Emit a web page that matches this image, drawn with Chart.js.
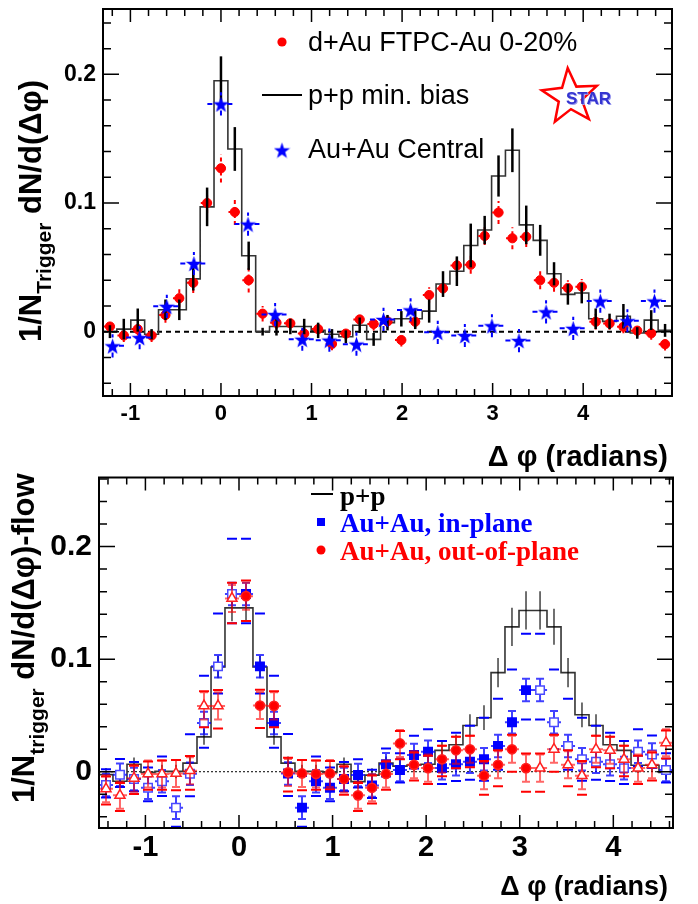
<!DOCTYPE html>
<html>
<head>
<meta charset="utf-8">
<script src="https://cdn.jsdelivr.net/npm/chart.js@4.4.1/dist/chart.umd.min.js"></script>
<style>
  body { margin: 0; background: #fff; }
  #wrap { position: relative; width: 698px; height: 904px; }
  canvas { position: absolute; left: 0; }
</style>
</head>
<body>
<div id="wrap">
  <canvas id="topChart" width="698" height="480" style="top:0"></canvas>
  <canvas id="bottomChart" width="698" height="434" style="top:470px"></canvas>
</div>
<script>
// ---- top panel: d+Au, p+p, Au+Au central ----
const topBinX = [-1.226, -1.073, -0.919, -0.766, -0.613, -0.460, -0.306, -0.153, 0.000, 0.153, 0.306, 0.460, 0.613, 0.766,
  0.919, 1.073, 1.226, 1.379, 1.532, 1.686, 1.839, 1.992, 2.145, 2.299, 2.452, 2.605, 2.758, 2.912, 3.065, 3.218,
  3.371, 3.525, 3.678, 3.831, 3.984, 4.138, 4.291, 4.444, 4.597, 4.751, 4.904]
const topPP = [0.000, 0.002, 0.009, -0.002, 0.017, 0.017, 0.041, 0.097, 0.195, 0.142, 0.059, 0.000, 0.004, 0.004,
  0.004, 0.001, -0.002, -0.004, 0.005, -0.006, 0.007, 0.010, 0.010, 0.016, 0.037, 0.047, 0.067, 0.079, 0.121, 0.141,
  0.083, 0.071, 0.045, 0.029, 0.030, 0.010, 0.008, 0.012, -0.001, 0.009, 0.001]
const topPPErr = [0.005, 0.008, 0.009, 0.004, 0.008, 0.008, 0.009, 0.015, 0.019, 0.017, 0.011, 0.003, 0.007, 0.006,
  0.006, 0.006, 0.004, 0.005, 0.006, 0.005, 0.006, 0.006, 0.008, 0.009, 0.010, 0.0115, 0.017, 0.011, 0.016, 0.017,
  0.015, 0.012, 0.009, 0.008, 0.008, 0.008, 0.006, 0.0095, 0.0045, 0.0077, 0.005]
const topDAu = [0.004, -0.003, 0.002, -0.003, 0.013, 0.026, 0.038, 0.100, 0.127, 0.093, 0.040, 0.014, 0.007, 0.0065,
  -0.0015, 0.002, -0.0095, -0.0015, 0.0095, 0.006, 0.008, -0.0065, 0.0077, 0.0285, 0.0336, 0.0515, 0.052, 0.0744,
  0.0926, 0.0726, 0.0738, 0.040, 0.038, 0.034, 0.035, 0.0077, 0.0064, 0.0038, 0.0008, -0.0013, -0.0097]
const topDAuErr = [0.005, 0.005, 0.005, 0.005, 0.006, 0.007, 0.008, 0.008, 0.011, 0.010, 0.0095, 0.006, 0.005, 0.005,
  0.005, 0.005, 0.005, 0.005, 0.005, 0.005, 0.005, 0.005, 0.005, 0.006, 0.006, 0.008, 0.007, 0.007, 0.009, 0.0086,
  0.008, 0.007, 0.007, 0.006, 0.006, 0.006, 0.005, 0.005, 0.005, 0.005, 0.005]
const topStarX = [-1.197, -0.898, -0.598, -0.299, 0.000, 0.299, 0.598, 0.898, 1.197, 1.496, 1.795, 2.094, 2.394,
  2.693, 2.992, 3.291, 3.590, 3.890, 4.189, 4.488, 4.787]
const topAuAu = [-0.011, -0.0046, 0.0197, 0.053, 0.177, 0.0836, 0.0133, -0.0059, -0.0066, -0.0097, 0.0095, 0.0169,
  -0.0005, -0.003, 0.0046, -0.0069, 0.0154, 0.0026, 0.0238, 0.0085, 0.0238]
const topAuAuErr = 0.009
const topXTicks = [-1, 0, 1, 2, 3, 4]
const topYTicks = [0, 0.1, 0.2]

// ---- bottom panel: flow subtracted, in-plane / out-of-plane ----
const botBinX = [-1.421, -1.272, -1.122, -0.972, -0.823, -0.673, -0.524, -0.374, -0.224, -0.075, 0.075, 0.224, 0.374,
  0.524, 0.673, 0.823, 0.972, 1.122, 1.272, 1.421, 1.571, 1.720, 1.870, 2.020, 2.169, 2.319, 2.468, 2.618, 2.768,
  2.917, 3.067, 3.217, 3.366, 3.516, 3.665, 3.815, 3.965, 4.114, 4.264, 4.413, 4.563]
const botPP = [-0.0026, -0.0085, 0.0067, -0.0006, 0.0003, 0.0003, 0.0076, 0.031, 0.093, 0.1456, 0.1456, 0.093, 0.031,
  0.0076, 0.0003, 0.0003, -0.0006, 0.0067, -0.0088, -0.003, 0.0076, 0.005, 0.006, 0.0067, 0.019, 0.024, 0.041,
  0.048, 0.088, 0.1287, 0.1433, 0.1433, 0.1287, 0.088, 0.0506, 0.041, 0.024, 0.019, 0.0058, 0.0058, -0.0006]
const botPPErr = [0.006, 0.006, 0.006, 0.006, 0.006, 0.006, 0.006, 0.007, 0.010, 0.012, 0.012, 0.010, 0.007, 0.006,
  0.006, 0.006, 0.006, 0.006, 0.006, 0.006, 0.006, 0.006, 0.006, 0.007, 0.008, 0.009, 0.010, 0.011, 0.013, 0.017,
  0.017, 0.017, 0.016, 0.013, 0.011, 0.010, 0.009, 0.008, 0.007, 0.006, 0.006]
const botIn = [-0.0118, -0.0026, -0.0064, -0.0143, -0.0085, -0.0319, -0.0018, 0.0433, 0.0936, 0.158, 0.158, 0.0936,
  0.0433, -0.0015, -0.0319, -0.0085, -0.0143, -0.0064, -0.003, -0.0123, 0.0067, 0.0015, 0.0149, 0.0178, 0.0032,
  0.0067, 0.0088, 0.011, 0.0228, 0.0439, 0.0725, 0.0725, 0.0439, 0.0228, 0.011, 0.0088, 0.0067, 0.0032, 0.0178,
  0.0152, 0.0015]
const botOut = [-0.0152, -0.021, -0.0058, -0.002, -0.002, -0.0015, 0.0009, 0.0585, 0.0585, 0.154, 0.156, 0.0588,
  0.0585, -0.0006, -0.0015, -0.002, -0.0015, -0.0064, -0.021, -0.0143, -0.002, 0.0251, 0.0061, 0.0032, 0.011, 0.019,
  0.0199, -0.0035, 0.0061, 0.0199, 0.0032, 0.0032, 0.0199, 0.0061, -0.0035, 0.0199, 0.019, 0.011, 0.0032, 0.0061,
  0.0257]
const botInErr = 0.010
const botOutErr = 0.012
// systematic (flow) uncertainty, drawn as short dashes above / below
const botInSysUp = [0.014, 0.014, 0.015, 0.018, 0.022, 0.028, 0.035, 0.042, 0.047, 0.049, 0.049, 0.047, 0.042, 0.035,
  0.028, 0.022, 0.018, 0.015, 0.014, 0.014, 0.014, 0.015, 0.017, 0.020, 0.024, 0.028, 0.032, 0.037, 0.042, 0.047,
  0.050, 0.050, 0.047, 0.042, 0.037, 0.032, 0.028, 0.024, 0.020, 0.017, 0.015]
const botInSysDn = [0.011, 0.011, 0.011, 0.012, 0.013, 0.017, 0.020, 0.022, 0.024, 0.026, 0.026, 0.024, 0.022, 0.020,
  0.017, 0.013, 0.012, 0.011, 0.011, 0.011, 0.011, 0.011, 0.012, 0.013, 0.014, 0.015, 0.016, 0.019, 0.021, 0.024,
  0.026, 0.026, 0.024, 0.021, 0.019, 0.016, 0.015, 0.014, 0.013, 0.012, 0.011]
const botOutSysUp = [0.011, 0.011, 0.011, 0.011, 0.012, 0.012, 0.013, 0.013, 0.014, 0.014, 0.014, 0.014, 0.013, 0.013,
  0.012, 0.012, 0.011, 0.011, 0.011, 0.011, 0.011, 0.011, 0.011, 0.011, 0.012, 0.012, 0.012, 0.013, 0.013, 0.013,
  0.013, 0.013, 0.013, 0.013, 0.013, 0.012, 0.012, 0.012, 0.011, 0.011, 0.011]
const botOutSysDn = [0.014, 0.014, 0.014, 0.014, 0.014, 0.015, 0.017, 0.019, 0.020, 0.022, 0.022, 0.020, 0.019, 0.017,
  0.015, 0.014, 0.014, 0.014, 0.014, 0.014, 0.014, 0.014, 0.014, 0.014, 0.015, 0.016, 0.016, 0.017, 0.019, 0.020,
  0.021, 0.021, 0.020, 0.019, 0.017, 0.016, 0.016, 0.015, 0.014, 0.014, 0.014]
const botXTicks = [-1, 0, 1, 2, 3, 4]
const botYTicks = [0, 0.1, 0.2]

const SANS = '"Liberation Sans", Arial, sans-serif'
const SERIF = '"Liberation Serif", "Times New Roman", serif'

function pts(xs, ys) {
  return xs.map((x, i) => ({ x: x, y: ys[i] }))
}

// bin centres -> step outline running from the first left edge to the last right edge
function histPoints(xs, ys, half) {
  const out = xs.map((x, i) => ({ x: x - half, y: ys[i] }))
  out.push({ x: xs[xs.length - 1] + half, y: ys[ys.length - 1] })
  return out
}

function starImage(size, color) {
  const c = document.createElement("canvas")
  c.width = c.height = size
  const g = c.getContext("2d")
  const R = size / 2
  g.fillStyle = color
  g.beginPath()
  for (let i = 0; i < 10; i++) {
    const a = -Math.PI / 2 + i * Math.PI / 5
    const r = i % 2 ? R * 0.4 : R
    g.lineTo(R + r * Math.cos(a), R + 1 + r * Math.sin(a))
  }
  g.closePath()
  g.fill()
  return c
}
const blueStar = starImage(17, "#0000ff")

// error bars, drawn right before each dataset's markers
const errorBars = {
  id: "errorBars",
  beforeDatasetDraw(chart, args) {
    const ds = chart.data.datasets[args.index]
    const e = ds.err
    if (!e) return
    const { ctx, chartArea: a, scales: { x, y } } = chart
    ctx.save()
    ctx.beginPath()
    ctx.rect(a.left, a.top, a.right - a.left, a.bottom - a.top)
    ctx.clip()
    ds.data.forEach((p, i) => {
      const ey = Array.isArray(e.y) ? e.y[i] : e.y
      const px = x.getPixelForValue(p.x)
      const py = y.getPixelForValue(p.y)
      const lo = y.getPixelForValue(p.y - ey)
      const hi = y.getPixelForValue(p.y + ey)
      ctx.strokeStyle = e.color
      ctx.lineWidth = e.width
      ctx.setLineDash(e.dash || [])
      ctx.beginPath()
      ctx.moveTo(px, lo)
      ctx.lineTo(px, hi)
      if (e.x) {
        ctx.moveTo(x.getPixelForValue(p.x - e.x), py)
        ctx.lineTo(x.getPixelForValue(p.x + e.x), py)
      }
      if (e.cap) {
        ctx.moveTo(px - e.cap, lo); ctx.lineTo(px + e.cap, lo)
        ctx.moveTo(px - e.cap, hi); ctx.lineTo(px + e.cap, hi)
      }
      ctx.stroke()
      if (e.sysUp) {
        ctx.setLineDash([])
        ctx.strokeStyle = e.sysColor
        ctx.lineWidth = 2
        ctx.beginPath()
        const su = y.getPixelForValue(p.y + e.sysUp[i])
        const sd = y.getPixelForValue(p.y - e.sysDn[i])
        ctx.moveTo(px - 5, su); ctx.lineTo(px + 5, su)
        ctx.moveTo(px - 5, sd); ctx.lineTo(px + 5, sd)
        ctx.stroke()
      }
    })
    ctx.restore()
  }
}

// ROOT-like frame with inward ticks on all four sides, plus the zero line
function framePlugin(o) {
  return {
    id: "frame",
    beforeDatasetsDraw(chart) {
      const { ctx, chartArea: a, scales: { y } } = chart
      const y0 = y.getPixelForValue(0)
      ctx.save()
      ctx.strokeStyle = "#000"
      ctx.lineWidth = o.zeroWidth
      ctx.setLineDash(o.zeroDash)
      ctx.beginPath()
      ctx.moveTo(a.left, y0)
      ctx.lineTo(a.right, y0)
      ctx.stroke()
      ctx.restore()
    },
    afterDraw(chart) {
      const { ctx, chartArea: a, scales: { x, y } } = chart
      ctx.save()
      ctx.strokeStyle = "#000"
      ctx.lineWidth = 1.5
      ctx.beginPath()
      const x0 = Math.ceil(x.min / 0.2 - 1e-6) * 0.2
      for (let i = 0; x0 + i * 0.2 <= x.max + 1e-9; i++) {
        const v = x0 + i * 0.2
        const major = Math.abs(v - Math.round(v)) < 1e-6
        const len = major ? o.xLen[0] : o.xLen[1]
        const px = x.getPixelForValue(v)
        ctx.moveTo(px, a.bottom); ctx.lineTo(px, a.bottom - len)
        ctx.moveTo(px, a.top); ctx.lineTo(px, a.top + len)
      }
      const yv0 = Math.ceil(y.min / 0.02 - 1e-6) * 0.02
      for (let i = 0; yv0 + i * 0.02 <= y.max + 1e-9; i++) {
        const v = yv0 + i * 0.02
        const major = Math.abs(v * 10 - Math.round(v * 10)) < 1e-6
        const len = major ? o.yLen[0] : o.yLen[1]
        const py = y.getPixelForValue(v)
        ctx.moveTo(a.left, py); ctx.lineTo(a.left + len, py)
        ctx.moveTo(a.right, py); ctx.lineTo(a.right - len, py)
      }
      ctx.stroke()
      ctx.lineWidth = 2
      ctx.strokeRect(a.left, a.top, a.right - a.left, a.bottom - a.top)
      ctx.restore()
      o.extra(ctx)
    }
  }
}

function rotatedTitle(ctx, x, y, parts) {
  ctx.save()
  ctx.translate(x, y)
  ctx.rotate(-Math.PI / 2)
  ctx.fillStyle = "#000"
  ctx.textBaseline = "alphabetic"
  ctx.textAlign = "left"
  let cx = 0
  parts.forEach(p => {
    ctx.font = p.font
    ctx.fillText(p.text, cx, p.dy || 0)
    cx += ctx.measureText(p.text).width
  })
  ctx.restore()
}

function drawStarLogo(ctx, cx, cy, R) {
  ctx.save()
  ctx.strokeStyle = "#ff0000"
  ctx.lineWidth = 2.5
  ctx.beginPath()
  for (let i = 0; i < 10; i++) {
    const a = -Math.PI / 2 - 0.08 + i * Math.PI / 5
    const r = i % 2 ? R * 0.42 : R
    ctx.lineTo(cx + r * Math.cos(a), cy + r * Math.sin(a))
  }
  ctx.closePath()
  ctx.stroke()
  ctx.font = "bold 17px " + SANS
  ctx.textBaseline = "alphabetic"
  ctx.fillStyle = "#9a9aee"
  ctx.fillText("STAR", cx - 3, cy + 8)
  ctx.fillStyle = "#3434d0"
  ctx.fillText("STAR", cx - 4, cy + 7)
  ctx.restore()
}

// fixed axis boxes: the frame must sit exactly where the reference has it
function fixY(width) {
  return s => { s.width = width; s.paddingTop = 0; s.paddingBottom = 0 }
}
function fixX(height) {
  return s => { s.height = height; s.paddingLeft = 0; s.paddingRight = 0 }
}

function scaleOpts(min, max, ticks, size, fit, pad, fmt) {
  return {
    type: "linear",
    min: min,
    max: max,
    grid: { display: false, drawTicks: false },
    border: { display: false },
    afterBuildTicks: axis => { axis.ticks = ticks.map(v => ({ value: v })) },
    afterFit: fit,
    ticks: {
      autoSkip: false,
      maxRotation: 0,
      padding: pad,
      color: "#000",
      font: { family: SANS, size: size, weight: "bold" },
      callback: fmt
    }
  }
}
const fmtX = v => String(v)
const fmtY = v => (v === 0 ? "0" : v.toFixed(1))

// ---------------- top chart ----------------
new Chart(document.getElementById("topChart"), {
  type: "scatter",
  data: {
    datasets: [
      {
        type: "line",
        data: histPoints(topBinX, topPP, 0.0766),
        stepped: "before",
        borderColor: "#333",
        borderWidth: 1.6,
        pointRadius: 0,
        fill: false,
        order: 3
      },
      {
        data: pts(topBinX, topDAu),
        pointStyle: "circle",
        pointRadius: 4.6,
        pointBackgroundColor: "#ff0000",
        pointBorderColor: "#ff0000",
        err: { y: topDAuErr, x: 0.07, color: "#ff0000", width: 2, dash: [4, 3] },
        order: 2
      },
      {
        data: pts(topBinX, topPP),
        pointRadius: 0,
        err: { y: topPPErr, color: "#000", width: 2.5 },
        order: 1
      },
      {
        data: pts(topStarX, topAuAu),
        pointStyle: blueStar,
        pointRadius: 8,
        err: { y: topAuAuErr, x: 0.15, color: "#0000ff", width: 2, dash: [5, 5] },
        order: 0
      }
    ]
  },
  options: {
    responsive: false,
    animation: false,
    events: [],
    devicePixelRatio: 1,
    layout: { padding: { left: 0, right: 26, top: 5, bottom: 0 } },
    plugins: { legend: { display: false }, tooltip: { enabled: false } },
    scales: {
      x: scaleOpts(-1.3026, 4.9806, topXTicks, 22, fixX(84), 5, fmtX),
      y: scaleOpts(-0.05, 0.2508, topYTicks, 23, fixY(103), 7, fmtY)
    }
  },
  plugins: [
    errorBars,
    framePlugin({
      xLen: [13, 7],
      yLen: [16, 8],
      zeroWidth: 2,
      zeroDash: [5, 4],
      extra: ctx => {
        ctx.save()
        ctx.fillStyle = "#000"
        ctx.font = "bold 29px " + SANS
        ctx.textAlign = "right"
        ctx.fillText("\u0394 \u03c6 (radians)", 668, 466)
        rotatedTitle(ctx, 41, 342, [
          { text: "1/N", font: "bold 31px " + SANS },
          { text: "Trigger", font: "bold 21px " + SANS, dy: 10 },
          { text: " dN/d(\u0394\u03c6)", font: "bold 31px " + SANS }
        ])
        // legend
        ctx.textAlign = "left"
        ctx.font = "27px " + SANS
        ctx.fillStyle = "#ff0000"
        ctx.beginPath()
        ctx.arc(282, 42, 4.6, 0, Math.PI * 2)
        ctx.fill()
        ctx.fillStyle = "#000"
        ctx.fillText("d+Au FTPC-Au 0-20%", 308, 51)
        ctx.lineWidth = 2
        ctx.beginPath()
        ctx.moveTo(262, 95)
        ctx.lineTo(302, 95)
        ctx.stroke()
        ctx.fillText("p+p min. bias", 308, 104)
        ctx.drawImage(blueStar, 282 - 8.5, 150 - 8.5)
        ctx.fillText("Au+Au Central", 308, 158)
        ctx.restore()
        drawStarLogo(ctx, 570, 97, 29)
      }
    })
  ]
})

// ---------------- bottom chart (canvas starts at page y = 470) ----------------
const isFilled = c => c.raw && c.raw.x > 0 && c.raw.x < Math.PI

new Chart(document.getElementById("bottomChart"), {
  type: "scatter",
  data: {
    datasets: [
      {
        type: "line",
        data: histPoints(botBinX, botPP, 0.0748),
        stepped: "before",
        borderColor: "#333",
        borderWidth: 1.6,
        pointRadius: 0,
        fill: false,
        order: 4
      },
      {
        data: pts(botBinX, botPP),
        pointRadius: 0,
        err: { y: botPPErr, color: "rgba(0,0,0,0.75)", width: 1.5 },
        order: 3
      },
      {
        data: pts(botBinX, botIn),
        pointStyle: "rect",
        pointRadius: 6,
        pointBorderWidth: 1.5,
        pointBackgroundColor: c => (isFilled(c) ? "#0000ff" : "#ffffff"),
        pointBorderColor: c => (isFilled(c) ? "#0000ff" : "#4a4aff"),
        err: { y: botInErr, x: 0.075, color: "rgba(0,0,255,0.75)", width: 2, cap: 4,
          sysUp: botInSysUp, sysDn: botInSysDn, sysColor: "#0000ff" },
        order: 2
      },
      {
        data: pts(botBinX, botOut),
        pointStyle: c => (isFilled(c) ? "circle" : "triangle"),
        pointRadius: c => (isFilled(c) ? 4.6 : 5.8),
        pointBorderWidth: 1.5,
        pointBackgroundColor: c => (isFilled(c) ? "#ff0000" : "#ffffff"),
        pointBorderColor: "#ff2020",
        err: { y: botOutErr, x: 0.075, color: "rgba(255,0,0,0.6)", width: 2, cap: 4,
          sysUp: botOutSysUp, sysDn: botOutSysDn, sysColor: "#ff0000" },
        order: 1
      }
    ]
  },
  options: {
    responsive: false,
    animation: false,
    events: [],
    devicePixelRatio: 1,
    layout: { padding: { left: 0, right: 25, top: 3, bottom: 0 } },
    plugins: { legend: { display: false }, tooltip: { enabled: false } },
    scales: {
      x: scaleOpts(-1.496, 4.6377, botXTicks, 29, fixX(76), 3, fmtX),
      y: scaleOpts(-0.05, 0.2614, botYTicks, 30, fixY(99), 7, fmtY)
    }
  },
  plugins: [
    errorBars,
    framePlugin({
      xLen: [13, 7],
      yLen: [16, 8],
      zeroWidth: 1,
      zeroDash: [2, 2],
      extra: ctx => {
        ctx.save()
        ctx.fillStyle = "#000"
        ctx.font = "bold 27px " + SANS
        ctx.textAlign = "right"
        ctx.fillText("\u0394 \u03c6 (radians)", 668, 425)
        rotatedTitle(ctx, 34, 333, [
          { text: "1/N", font: "bold 31px " + SANS },
          { text: "trigger", font: "bold 21px " + SANS, dy: 10 },
          { text: " dN/d(\u0394\u03c6)-flow", font: "bold 31px " + SANS }
        ])
        // legend
        ctx.textAlign = "left"
        ctx.font = "bold 27px " + SERIF
        ctx.lineWidth = 2
        ctx.strokeStyle = "#000"
        ctx.beginPath()
        ctx.moveTo(311, 24)
        ctx.lineTo(333, 24)
        ctx.stroke()
        ctx.fillText("p+p", 340, 35)
        ctx.fillStyle = "#0000ff"
        ctx.fillRect(317, 48, 8, 8)
        ctx.fillText("Au+Au, in-plane", 340, 62)
        ctx.fillStyle = "#ff0000"
        ctx.beginPath()
        ctx.arc(321, 80, 4.5, 0, Math.PI * 2)
        ctx.fill()
        ctx.fillText("Au+Au, out-of-plane", 340, 90)
        ctx.restore()
      }
    })
  ]
})
</script>
</body>
</html>
